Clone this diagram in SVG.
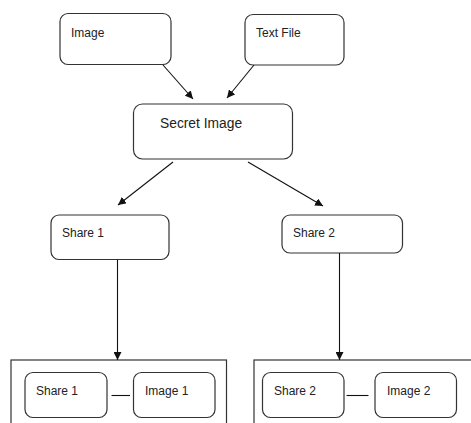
<svg xmlns="http://www.w3.org/2000/svg" width="471" height="423" viewBox="0 0 471 423">
<defs>
<style>
.box{fill:#fff;stroke:#333;stroke-width:1.2}
.frame{fill:none;stroke:#333;stroke-width:1.2}
.t{font-family:"Liberation Sans",Arial,sans-serif;font-size:12px;fill:#222}
.big{font-size:13.8px}
.c{stroke:#111;stroke-width:1.1;fill:none}
</style>
<marker id="ah" viewBox="0 0 10 10" refX="10" refY="5" markerWidth="8" markerHeight="8" markerUnits="userSpaceOnUse" orient="auto">
<path d="M0,0 L10,5 L0,10 z" fill="#111"/>
</marker>
</defs>
<rect width="471" height="423" fill="#fff"/>
<g id="image"><rect class="box" x="60" y="13.5" width="111" height="51" rx="8"/><text class="t" x="71" y="37">Image</text></g>
<g id="textfile"><rect class="box" x="245" y="14.5" width="99" height="50.5" rx="8"/><text class="t" x="256" y="37">Text File</text></g>
<g id="secret"><rect class="box" x="133.5" y="104" width="159" height="55" rx="9"/><text class="t big" x="160" y="128">Secret Image</text></g>
<g id="share1"><rect class="box" x="51" y="215" width="118" height="44.5" rx="8"/><text class="t" x="62" y="237">Share 1</text></g>
<g id="share2"><rect class="box" x="282" y="215" width="120.5" height="38" rx="8"/><text class="t" x="293" y="237">Share 2</text></g>
<g id="group1"><rect class="frame" x="11" y="360" width="215.5" height="70"/>
<g id="g1share1"><rect class="box" x="25" y="372.5" width="82" height="45" rx="8"/><text class="t" x="36" y="395">Share 1</text></g>
<g id="g1image1"><rect class="box" x="133.5" y="372.5" width="81.5" height="45" rx="8"/><text class="t" x="145" y="395">Image 1</text></g>
</g>
<g id="group2"><rect class="frame" x="254" y="360" width="230" height="70"/>
<g id="g2share2"><rect class="box" x="262.5" y="372.5" width="81.5" height="45" rx="8"/><text class="t" x="274" y="395">Share 2</text></g>
<g id="g2image2"><rect class="box" x="375" y="372.5" width="81.5" height="45" rx="8"/><text class="t" x="387" y="395">Image 2</text></g>
</g>
<g id="connectors">
<line class="c" x1="163" y1="65" x2="193" y2="99" marker-end="url(#ah)"/>
<line class="c" x1="254" y1="65" x2="227" y2="98" marker-end="url(#ah)"/>
<line class="c" x1="173" y1="162" x2="118" y2="205" marker-end="url(#ah)"/>
<line class="c" x1="248" y1="162" x2="323" y2="206" marker-end="url(#ah)"/>
<line class="c" x1="117.5" y1="259.5" x2="117.5" y2="360" marker-end="url(#ah)"/>
<line class="c" x1="339.5" y1="253" x2="339.5" y2="360" marker-end="url(#ah)"/>
<line class="c" x1="111.5" y1="395.5" x2="130" y2="395.5"/>
<line class="c" x1="346.5" y1="395.5" x2="368.5" y2="395.5"/>
</g>
</svg>
